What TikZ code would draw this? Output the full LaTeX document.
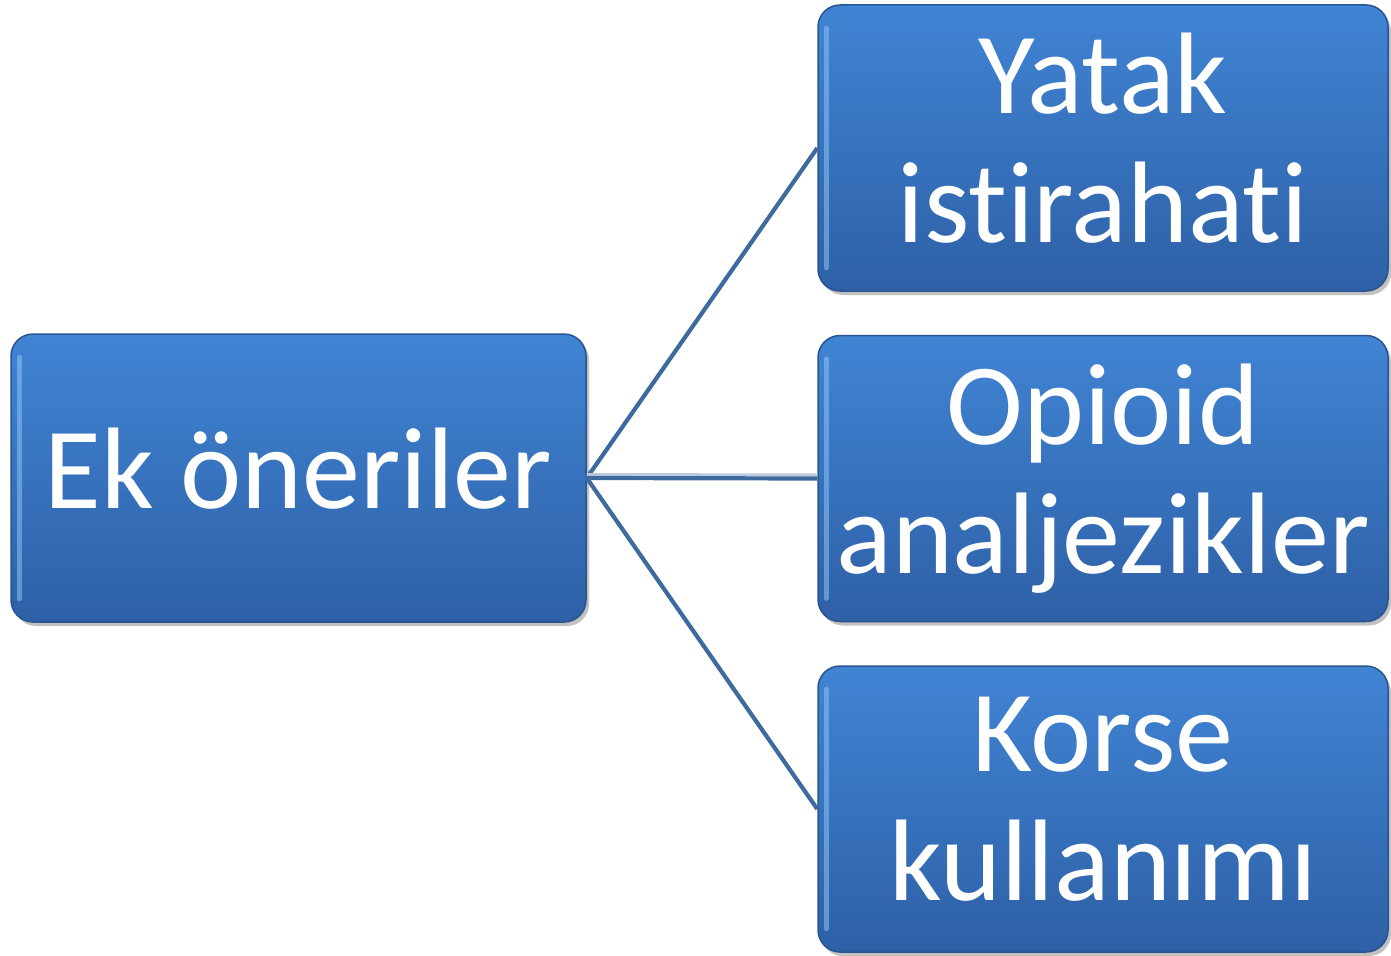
\documentclass[tikz,border=0pt]{standalone}
\usepackage{fontspec}
\setmainfont{Carlito}[Ligatures=NoCommon]
\usetikzlibrary{shadows}
\definecolor{boxtop}{HTML}{4084D4}
\definecolor{boxbot}{HTML}{2E60A6}
\definecolor{boxline}{HTML}{2A5490}
\definecolor{connc}{HTML}{3F6A9F}
\definecolor{hlc}{HTML}{8CC4F4}
\tikzset{
  box/.style={rounded corners=22pt, top color=boxtop, bottom color=boxbot, draw=boxline, line width=1.5pt,
    text=white, align=center, inner sep=0pt,
    font=\fontsize{116}{129}\selectfont,
    drop shadow={shadow xshift=3pt, shadow yshift=-4pt, opacity=0.35, fill=black!70}},
  leftbox/.style={box, minimum width=575pt, minimum height=288pt},
  rightbox/.style={box, minimum width=570pt, minimum height=286pt},
  conn/.style={draw=connc, line width=4.2pt},
  hl/.style={draw=hlc, line width=5pt, opacity=0.55, line cap=round}
}
\begin{document}
\begin{tikzpicture}[x=1pt,y=-1pt]
\useasboundingbox (0,0) rectangle (1391,955);
\node[leftbox] (ek) at (298.5,478) {Ek öneriler\vphantom{j}};
\node[rightbox] (yatak) at (1103,148) {Yatak\\ist\kern0pt irahat\kern0pt i\vphantom{j}};
\node[rightbox] (opioid) at (1103,478.5) {Opioid\\analjezikler};
\node[rightbox] (korse) at (1103,809) {Korse\\kullanımı\vphantom{j}};
\foreach \n in {ek,yatak,opioid,korse}{
  \draw[hl] ([xshift=9pt,yshift=-24pt]\n.north west) -- ([xshift=9pt,yshift=24pt]\n.south west);
}
\draw[conn] (ek.east) -- (yatak.west);
\draw[draw=connc!35, line width=3pt] ([yshift=3.5pt]ek.east) -- ([yshift=3.5pt]opioid.west);
\draw[conn] (ek.east) -- (opioid.west);
\draw[conn] (ek.east) -- (korse.west);
\end{tikzpicture}
\end{document}
